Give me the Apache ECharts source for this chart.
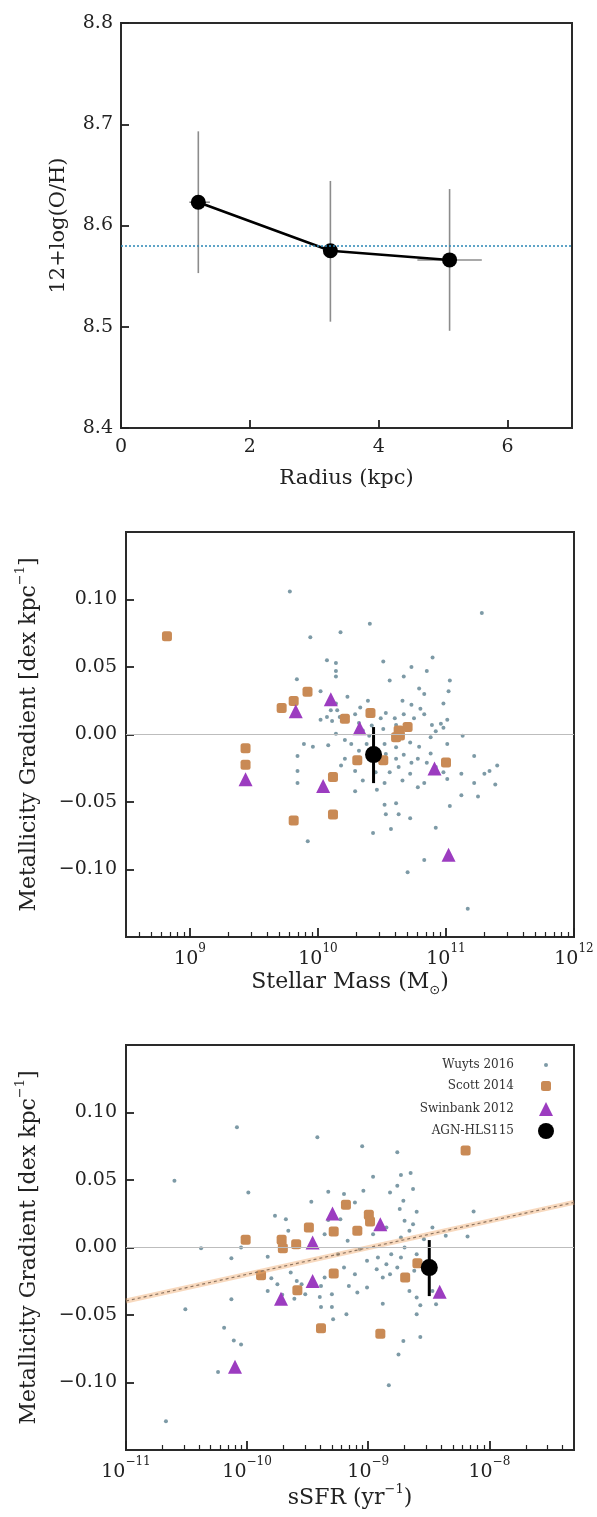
<!DOCTYPE html>
<html><head><meta charset="utf-8">
<script src="https://cdn.jsdelivr.net/npm/echarts@6/dist/echarts.min.js"></script>
<style>html,body{margin:0;padding:0;background:#fff}#c{width:597px;height:1517px}</style>
</head><body><div id="c"></div>
<script>
// ---------- Panel 1: radial metallicity profile ----------
const radiusKpc      = [1.2, 3.25, 5.1];
const ohValue        = [8.623, 8.575, 8.566];
const ohErrLow       = [8.553, 8.505, 8.496];
const ohErrHigh      = [8.693, 8.644, 8.636];
const radiusErrLow   = [1.06, 3.25, 4.6];
const radiusErrHigh  = [1.38, 3.25, 5.6];
const ohReference    = 8.58;
const radiusTicks    = [0, 2, 4, 6];
const ohTicks        = [8.4, 8.5, 8.6, 8.7, 8.8];

// ---------- Panel 2: gradient vs log stellar mass ----------
const wuytsMassGrad = [[9.78,0.106],[10.405,0.082],[11.28,0.090],[10.176,0.0757],[9.94,0.072],[10.895,0.057],[10.51,0.054],[10.07,0.055],[10.14,0.053],[10.14,0.047],[10.14,0.043],[10.73,0.050],[10.85,0.047],[9.835,0.041],[10.56,0.040],[10.67,0.043],[11.03,0.040],[10.79,0.034],[11.02,0.032],[10.83,0.030],[10.02,0.032],[10.23,0.028],[10.39,0.025],[10.66,0.025],[10.73,0.022],[10.98,0.023],[10.80,0.019],[10.83,0.015],[10.14,0.023],[10.33,0.020],[10.29,0.015],[10.17,0.013],[10.07,0.013],[10.49,0.012],[10.53,0.016],[11.01,0.011],[10.98,0.005],[10.92,0.0025],[11.13,-0.001],[10.88,-0.002],[10.72,-0.006],[10.79,-0.009],[11.01,-0.007],[10.88,-0.014],[10.78,-0.018],[10.67,-0.015],[10.61,-0.0095],[10.53,-0.0145],[10.52,-0.007],[10.61,-0.018],[10.56,-0.028],[10.63,-0.024],[10.72,-0.029],[10.66,-0.034],[10.83,-0.036],[10.78,-0.039],[10.98,-0.028],[11.01,-0.033],[11.12,-0.029],[11.22,-0.016],[11.22,-0.036],[11.30,-0.029],[11.34,-0.027],[11.40,-0.023],[11.385,-0.037],[11.25,-0.046],[11.12,-0.045],[11.03,-0.053],[10.61,-0.051],[10.52,-0.052],[10.63,-0.059],[10.53,-0.059],[10.72,-0.062],[10.57,-0.070],[10.92,-0.069],[10.43,-0.073],[10.83,-0.093],[10.70,-0.102],[11.17,-0.129],[9.92,-0.079],[9.84,-0.036],[9.84,-0.016],[9.89,-0.007],[9.96,-0.009],[10.08,-0.008],[10.02,0.011],[10.14,0.0005],[10.21,-0.004],[10.26,-0.007],[10.32,-0.012],[10.38,-0.007],[10.21,-0.018],[10.18,-0.023],[10.29,-0.027],[10.29,-0.042],[10.35,-0.034],[10.46,-0.041],[10.52,-0.036],[10.45,-0.028],[10.49,-0.021],[10.67,0.015],[10.60,0.012],[10.61,0.007],[10.75,0.012],[10.89,0.007],[10.96,0.008],[10.40,-0.001],[10.35,0.003],[10.32,0.0085],[10.42,0.0067],[10.15,0.018],[10.11,0.010],[10.10,0.018],[10.51,0.004],[9.84,-0.027],[10.92,-0.024],[10.85,-0.021],[10.73,-0.021]];
const scottMassGrad = [[8.82,0.0727],[9.434,-0.0102],[9.434,-0.0224],[9.716,0.0197],[9.81,0.0249],[9.918,0.0316],[9.81,-0.0637],[10.117,-0.0593],[10.117,-0.0314],[10.21,0.0117],[10.307,-0.019],[10.41,0.016],[10.51,-0.019],[10.61,-0.002],[10.63,0.003],[10.70,0.0055],[11.0,-0.0207],[10.64,-0.0007]];
const swinbankMassGrad = [[9.434,-0.0331],[9.826,0.0172],[10.10,0.0262],[10.04,-0.0381],[10.325,0.0047],[10.91,-0.0251],[11.02,-0.0891]];
const agnMassGrad = [[10.434, -0.0149]];
const agnGradErr = [-0.036, 0.0055];
const massMajorTicks = [9, 10, 11, 12];
const massMinorTicks = [8.602,8.699,8.778,8.845,8.903,8.954,9.301,9.477,9.602,9.699,9.778,9.845,9.903,9.954,10.301,10.477,10.602,10.699,10.778,10.845,10.903,10.954,11.301,11.477,11.602,11.699,11.778,11.845,11.903,11.954];

// ---------- Panel 3: gradient vs log sSFR ----------
const wuytsSsfrGrad = [[-10.084,0.089],[-9.42,0.0817],[-9.05,0.075],[-8.76,0.0705],[-10.60,0.0495],[-9.99,0.0408],[-9.33,0.0413],[-9.04,0.042],[-8.96,0.0525],[-8.73,0.0537],[-8.65,0.0552],[-8.63,0.0433],[-8.82,0.0408],[-8.76,0.0458],[-8.71,0.0347],[-8.60,0.0265],[-8.13,0.0267],[-8.18,0.0082],[-9.20,0.0396],[-9.11,0.0334],[-9.47,0.0339],[-9.77,0.0235],[-9.68,0.021],[-9.66,0.0124],[-10.05,0.0],[-10.38,-0.0005],[-10.13,-0.0079],[-9.83,-0.0069],[-9.80,-0.0228],[-9.64,-0.0186],[-9.83,-0.0322],[-9.75,-0.0272],[-9.55,-0.0272],[-9.52,-0.0347],[-9.39,-0.0285],[-9.36,-0.0223],[-9.40,-0.0366],[-9.30,-0.0347],[-9.30,-0.044],[-9.39,-0.044],[-9.18,-0.0495],[-9.29,-0.0532],[-9.16,-0.0285],[-9.09,-0.0334],[-9.20,-0.0149],[-9.11,-0.0198],[-9.01,-0.0099],[-8.92,-0.0074],[-8.85,-0.0124],[-8.93,-0.0161],[-8.88,-0.0223],[-9.01,-0.0297],[-8.88,-0.0416],[-8.82,-0.0198],[-8.76,-0.0149],[-8.73,-0.0074],[-8.81,-0.005],[-8.70,0.0],[-8.60,-0.005],[-8.62,-0.0173],[-8.66,-0.0322],[-8.60,-0.0371],[-8.57,-0.0428],[-8.60,-0.0495],[-8.47,-0.0322],[-8.44,-0.042],[-8.57,-0.0663],[-8.71,-0.0693],[-8.75,-0.0792],[-8.83,-0.102],[-8.73,0.0074],[-8.66,0.0124],[-8.63,0.0173],[-8.70,0.0198],[-8.74,0.0285],[-8.85,0.0149],[-8.96,0.0099],[-9.07,-0.0012],[-9.17,0.005],[-9.25,-0.005],[-9.36,0.0099],[-9.33,0.0203],[-9.23,0.021],[-8.47,0.0149],[-8.54,0.0062],[-8.36,0.0087],[-10.13,-0.0384],[-10.11,-0.0688],[-10.19,-0.0594],[-10.05,-0.0718],[-10.24,-0.0923],[-10.51,-0.0458],[-10.67,-0.1287],[-9.71,-0.035],[-9.61,-0.038],[-9.59,-0.0248]];
const scottSsfrGrad = [[-8.196,0.0718],[-10.012,0.0057],[-9.885,-0.0205],[-9.715,0.0057],[-9.705,-0.0005],[-9.595,0.0025],[-9.49,0.0149],[-9.585,-0.0317],[-9.39,-0.0599],[-9.285,0.0119],[-9.285,-0.0193],[-9.184,0.0317],[-9.09,0.0124],[-8.995,0.0243],[-8.985,0.0193],[-8.90,-0.0639],[-8.695,-0.0223],[-8.594,-0.0116]];
const swinbankSsfrGrad = [[-9.295,0.0252],[-8.90,0.0173],[-9.459,0.0037],[-9.459,-0.0248],[-9.72,-0.0379],[-8.41,-0.0327],[-10.10,-0.0884]];
const agnSsfrGrad = [[-8.496, -0.0149]];
const fitLogSsfr = [-11, -7.30103];
const fitGrad = [-0.0396, 0.0334];
const ssfrMajorTicks = [-11, -10, -9, -8];
const ssfrMinorTicks = [-10.699,-10.523,-10.398,-10.301,-10.222,-10.155,-10.097,-10.046,-9.699,-9.523,-9.398,-9.301,-9.222,-9.155,-9.097,-9.046,-8.699,-8.523,-8.398,-8.301,-8.222,-8.155,-8.097,-8.046,-7.699,-7.523,-7.398];
const gradTicks = [-0.10, -0.05, 0.00, 0.05, 0.10];

const seriesNames = ['Wuyts 2016', 'Scott 2014', 'Swinbank 2012', 'AGN-HLS115'];

// ---------- styling ----------
const FONT = 'DejaVu Serif';
const TXT = '#222';
const C_WUYTS = '#6f8f9c', C_SCOTT = '#c98a55', C_SWIN = '#9c3cc0', C_AGN = '#000';
const TICK = '#222';

const supRich = {
  b: {fontFamily: FONT, fontSize: 19, color: TXT, lineHeight: 26, verticalAlign: 'bottom'},
  s: {fontFamily: FONT, fontSize: 12, color: TXT, verticalAlign: 'top', lineHeight: 26}
};
function powLabel(v) {
  const n = Math.round(v);
  return '{b|10}{s|' + (n < 0 ? '\u2212' + (-n) : n) + '}';
}
function gradLabel(v) {
  const s = Math.abs(v).toFixed(2);
  return v < -1e-9 ? '\u2212' + s : s;
}

const grids = [
  {left: 121, top: 23, width: 451, height: 405},
  {left: 126, top: 532, width: 448, height: 405},
  {left: 126, top: 1045, width: 448, height: 405}
].map(g => Object.assign(g, {show: true, borderColor: '#2a2a2a', borderWidth: 2, backgroundColor: 'transparent'}));

const tickLabel = {fontFamily: FONT, fontSize: 19, color: TXT};
const nameStyle = (size) => ({fontFamily: FONT, fontSize: size, color: TXT});
const noLine = {show: false, onZero: false};

function errX(color, width) {
  // vertical error bars: value = [x, lo, hi]
  return function (params, api) {
    const a = api.coord([api.value(0), api.value(1)]);
    const b = api.coord([api.value(0), api.value(2)]);
    return {type: 'line', shape: {x1: a[0], y1: a[1], x2: b[0], y2: b[1]}, style: {stroke: color, lineWidth: width}};
  };
}
function errH(color, width) {
  // horizontal error bars: value = [lo, hi, y]
  return function (params, api) {
    const a = api.coord([api.value(0), api.value(2)]);
    const b = api.coord([api.value(1), api.value(2)]);
    return {type: 'line', shape: {x1: a[0], y1: a[1], x2: b[0], y2: b[1]}, style: {stroke: color, lineWidth: width}};
  };
}

const xAxes = [
  {gridIndex: 0, type: 'value', min: 0, max: 7, position: 'bottom',
   axisLine: noLine, splitLine: {show: false},
   axisTick: {inside: true, length: 8, customValues: radiusTicks, lineStyle: {color: TICK, width: 1.8}},
   axisLabel: {customValues: radiusTicks, margin: 10, ...tickLabel},
   name: 'Radius (kpc)', nameLocation: 'middle', nameGap: 40, nameTextStyle: nameStyle(21)},
  {gridIndex: 1, type: 'value', min: 8.5, max: 12, position: 'bottom',
   axisLine: noLine, splitLine: {show: false},
   axisTick: {inside: true, length: 9, customValues: massMajorTicks, lineStyle: {color: TICK, width: 1.8}},
   axisLabel: {customValues: massMajorTicks, margin: 6, formatter: powLabel, rich: supRich},
   name: 'Stellar Mass (M{sub|\u2299})', nameLocation: 'middle', nameGap: 30,
   nameTextStyle: Object.assign(nameStyle(22), {rich: {sub: {fontFamily: 'DejaVu Sans', fontSize: 13, color: TXT, verticalAlign: 'bottom', lineHeight: 30}}})},
  {gridIndex: 1, type: 'value', min: 8.5, max: 12, position: 'bottom',
   axisLine: noLine, splitLine: {show: false}, axisLabel: {show: false},
   axisTick: {inside: true, length: 5, customValues: massMinorTicks, lineStyle: {color: TICK, width: 1.2}}},
  {gridIndex: 2, type: 'value', min: -11, max: -7.30103, position: 'bottom',
   axisLine: noLine, splitLine: {show: false},
   axisTick: {inside: true, length: 9, customValues: ssfrMajorTicks, lineStyle: {color: TICK, width: 1.8}},
   axisLabel: {customValues: ssfrMajorTicks, margin: 6, formatter: powLabel, rich: supRich},
   name: 'sSFR (yr{s|\u22121})', nameLocation: 'middle', nameGap: 32,
   nameTextStyle: Object.assign(nameStyle(22), {rich: {s: {fontFamily: FONT, fontSize: 13, color: TXT, verticalAlign: 'top', lineHeight: 30}}})},
  {gridIndex: 2, type: 'value', min: -11, max: -7.30103, position: 'bottom',
   axisLine: noLine, splitLine: {show: false}, axisLabel: {show: false},
   axisTick: {inside: true, length: 5, customValues: ssfrMinorTicks, lineStyle: {color: TICK, width: 1.2}}}
];

const gradName = 'Metallicity Gradient [dex kpc{s|\u22121}]';
const gradNameStyle = Object.assign(nameStyle(22), {rich: {s: {fontFamily: FONT, fontSize: 13, color: TXT, verticalAlign: 'top', lineHeight: 30}}});
const yAxes = [
  {gridIndex: 0, type: 'value', min: 8.4, max: 8.8, position: 'left',
   axisLine: noLine, splitLine: {show: false},
   axisTick: {inside: true, length: 8, customValues: ohTicks, lineStyle: {color: TICK, width: 1.8}},
   axisLabel: {customValues: ohTicks, margin: 8, formatter: v => v.toFixed(1), ...tickLabel},
   name: '12+log(O/H)', nameLocation: 'middle', nameGap: 52, nameRotate: 90, nameTextStyle: nameStyle(21)},
  {gridIndex: 1, type: 'value', min: -0.15, max: 0.15, position: 'left',
   axisLine: noLine, splitLine: {show: false},
   axisTick: {inside: true, length: 8, customValues: gradTicks, lineStyle: {color: TICK, width: 1.8}},
   axisLabel: {customValues: gradTicks, margin: 9, formatter: gradLabel, ...tickLabel},
   name: gradName, nameLocation: 'middle', nameGap: 82, nameRotate: 90, nameTextStyle: gradNameStyle},
  {gridIndex: 2, type: 'value', min: -0.15, max: 0.15, position: 'left',
   axisLine: noLine, splitLine: {show: false},
   axisTick: {inside: true, length: 8, customValues: gradTicks, lineStyle: {color: TICK, width: 1.8}},
   axisLabel: {customValues: gradTicks, margin: 9, formatter: gradLabel, ...tickLabel},
   name: gradName, nameLocation: 'middle', nameGap: 82, nameRotate: 90, nameTextStyle: gradNameStyle}
];

const zeroLine = {silent: true, symbol: 'none', label: {show: false},
  lineStyle: {color: '#bdbdbd', width: 1, type: 'solid'}, data: [{yAxis: 0}]};

const series = [
  // ---- panel 1
  {type: 'custom', xAxisIndex: 0, yAxisIndex: 0, z: 2, silent: true,
   data: radiusKpc.map((r, i) => [r, ohErrLow[i], ohErrHigh[i]]), renderItem: errX('#8c8c8c', 1.6)},
  {type: 'custom', xAxisIndex: 0, yAxisIndex: 0, z: 2, silent: true,
   data: radiusKpc.map((r, i) => [radiusErrLow[i], radiusErrHigh[i], ohValue[i]]), renderItem: errH('#8c8c8c', 1.6)},
  {type: 'line', xAxisIndex: 0, yAxisIndex: 0, z: 3,
   data: radiusKpc.map((r, i) => [r, ohValue[i]]),
   symbol: 'circle', symbolSize: 15, itemStyle: {color: '#000', opacity: 1}, lineStyle: {color: '#000', width: 2.6},
   markLine: {silent: true, symbol: 'none', label: {show: false},
     lineStyle: {color: '#2b86b5', width: 1.6, type: [2, 2]}, data: [{yAxis: ohReference}]}},

  // ---- panel 2
  {name: seriesNames[0], type: 'scatter', xAxisIndex: 1, yAxisIndex: 1, data: wuytsMassGrad,
   symbol: 'circle', symbolSize: 4, itemStyle: {color: C_WUYTS, opacity: 0.9}, markLine: zeroLine},
  {name: seriesNames[1], type: 'scatter', xAxisIndex: 1, yAxisIndex: 1, data: scottMassGrad,
   symbol: 'roundRect', symbolSize: 10, itemStyle: {color: C_SCOTT, opacity: 1}},
  {name: seriesNames[2], type: 'scatter', xAxisIndex: 1, yAxisIndex: 1, data: swinbankMassGrad,
   symbol: 'triangle', symbolSize: 14, itemStyle: {color: C_SWIN, opacity: 1}},
  {type: 'custom', xAxisIndex: 1, yAxisIndex: 1, z: 4, silent: true,
   data: agnMassGrad.map(p => [p[0], agnGradErr[0], agnGradErr[1]]), renderItem: errX('#000', 3)},
  {name: seriesNames[3], type: 'scatter', xAxisIndex: 1, yAxisIndex: 1, z: 5, data: agnMassGrad,
   symbol: 'circle', symbolSize: 17, itemStyle: {color: C_AGN, opacity: 1}},

  // ---- panel 3
  {name: seriesNames[0], type: 'scatter', xAxisIndex: 3, yAxisIndex: 2, data: wuytsSsfrGrad,
   symbol: 'circle', symbolSize: 4, itemStyle: {color: C_WUYTS, opacity: 0.9}, markLine: zeroLine},
  {type: 'line', xAxisIndex: 3, yAxisIndex: 2, silent: true, symbol: 'none',
   data: fitLogSsfr.map((x, i) => [x, fitGrad[i]]), lineStyle: {color: 'rgba(240,170,110,0.45)', width: 5}},
  {type: 'line', xAxisIndex: 3, yAxisIndex: 2, silent: true, symbol: 'none',
   data: fitLogSsfr.map((x, i) => [x, fitGrad[i]]), lineStyle: {color: '#8d7460', width: 1.2, type: [3, 3]}},
  {name: seriesNames[1], type: 'scatter', xAxisIndex: 3, yAxisIndex: 2, data: scottSsfrGrad,
   symbol: 'roundRect', symbolSize: 10, itemStyle: {color: C_SCOTT, opacity: 1}},
  {name: seriesNames[2], type: 'scatter', xAxisIndex: 3, yAxisIndex: 2, data: swinbankSsfrGrad,
   symbol: 'triangle', symbolSize: 14, itemStyle: {color: C_SWIN, opacity: 1}},
  {type: 'custom', xAxisIndex: 3, yAxisIndex: 2, z: 4, silent: true,
   data: agnSsfrGrad.map(p => [p[0], agnGradErr[0], agnGradErr[1]]), renderItem: errX('#000', 3)},
  {name: seriesNames[3], type: 'scatter', xAxisIndex: 3, yAxisIndex: 2, z: 5, data: agnSsfrGrad,
   symbol: 'circle', symbolSize: 17, itemStyle: {color: C_AGN, opacity: 1}}
];

const legendSpec = [
  {name: seriesNames[0], w: 4,  center: 1067},
  {name: seriesNames[1], w: 10, center: 1088},
  {name: seriesNames[2], w: 14, center: 1110},
  {name: seriesNames[3], w: 16, center: 1131}
];
const iconCenterX = 546, textEndX = 514;
const legends = legendSpec.map(l => ({
  data: [l.name], orient: 'vertical', align: 'right', padding: 0,
  right: 597 - iconCenterX - l.w / 2, top: l.center - 8,
  itemWidth: l.w, itemHeight: l.w, selectedMode: false,
  textStyle: {fontFamily: FONT, fontSize: 12, color: '#333',
    padding: [0, (iconCenterX - l.w / 2) - 5 - textEndX, 0, 0]}
}));

const chart = echarts.init(document.getElementById('c'), null, {renderer: 'canvas'});
chart.setOption({
  animation: false,
  backgroundColor: '#fff',
  grid: grids, xAxis: xAxes, yAxis: yAxes, legend: legends, series: series
});
</script></body></html>
